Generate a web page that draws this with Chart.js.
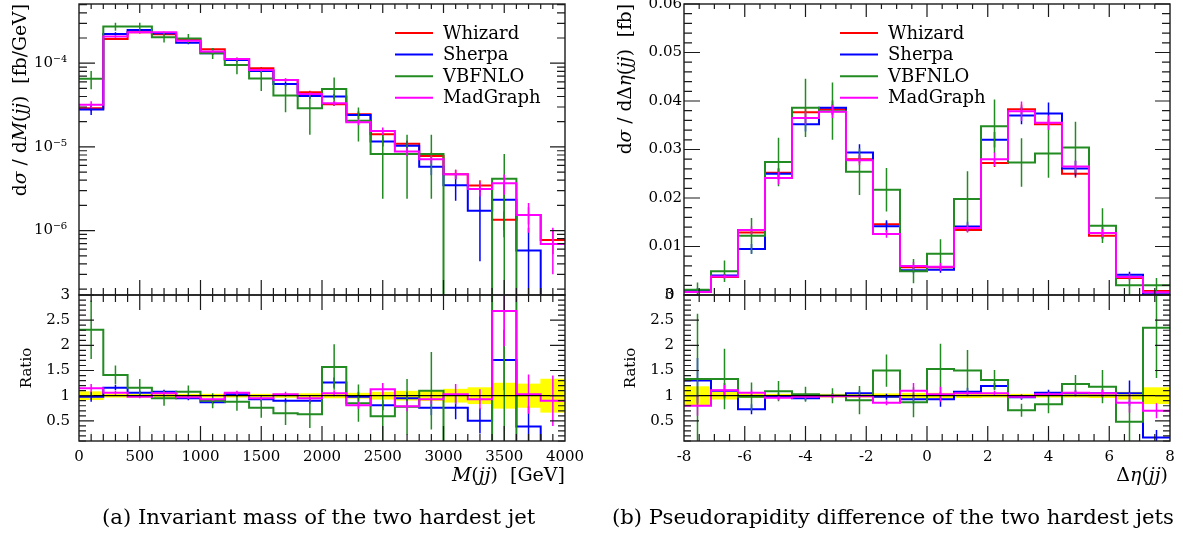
<!DOCTYPE html>
<html>
<head>
<meta charset="utf-8">
<script src="https://cdn.jsdelivr.net/npm/chart.js@4.4.1/dist/chart.umd.min.js"></script>
<style>
html, body { margin: 0; padding: 0; background: #fff; overflow: hidden; }
#page { position: relative; width: 1183px; height: 542px; }
canvas { position: absolute; }
.cap { position: absolute; top: 505px; font-family: "DejaVu Serif", serif; font-size: 21.2px; line-height: 24px; white-space: nowrap; color: #000; }
</style>
</head>
<body>
<div id="page">
  <canvas id="massMain" width="590" height="310" style="left:0;top:0"></canvas>
  <canvas id="massRatio" width="590" height="220" style="left:0;top:280px"></canvas>
  <canvas id="etaMain" width="588" height="310" style="left:595px;top:0"></canvas>
  <canvas id="etaRatio" width="588" height="220" style="left:595px;top:280px"></canvas>
  <div class="cap" style="left:102px">(a) Invariant mass of the two hardest jet</div>
  <div class="cap" style="left:612px">(b) Pseudorapidity difference of the two hardest jets</div>
</div>
<script>
// ---- données ----
const seriesNames = ['Whizard', 'Sherpa', 'VBFNLO', 'MadGraph'];
const seriesColors = ['#ff0000', '#0000ff', '#228b22', '#ff00ff'];

// (a) M(jj), bins de 200 GeV
const massEdges = [0, 200, 400, 600, 800, 1000, 1200, 1400, 1600, 1800, 2000, 2200, 2400, 2600, 2800, 3000, 3200, 3400, 3600, 3800, 4000];
const massXTicks = [0, 500, 1000, 1500, 2000, 2500, 3000, 3500, 4000];
const massYTicks = [1e-6, 1e-5, 1e-4];
const massWhizard = [2.9e-5, 1.95e-4, 2.34e-4, 2.22e-4, 1.94e-4, 1.47e-4, 1.12e-4, 8.7e-5, 6.3e-5, 4.5e-5, 3.23e-5, 2.45e-5, 1.42e-5, 1.09e-5, 7.8e-6, 4.72e-6, 3.45e-6, 1.35e-6, 1.54e-6, 7.7e-7];
const massSherpa = [2.8e-5, 2.24e-4, 2.5e-4, 2.28e-4, 1.76e-4, 1.32e-4, 1.09e-4, 8.1e-5, 5.66e-5, 4.07e-5, 4.0e-5, 2.41e-5, 1.16e-5, 1.03e-5, 5.8e-6, 3.48e-6, 1.73e-6, 2.33e-6, 5.8e-7, 0];
const massVbfnlo = [6.5e-5, 2.74e-4, 2.74e-4, 2.04e-4, 1.98e-4, 1.32e-4, 9.5e-5, 6.55e-5, 4.1e-5, 2.9e-5, 4.93e-5, 2.06e-5, 8.2e-6, 8.2e-6, 8.2e-6, 0, 0, 4.15e-6, 0, 0];
const massMadgraph = [3.2e-5, 2.08e-4, 2.34e-4, 2.34e-4, 1.86e-4, 1.38e-4, 1.12e-4, 8.3e-5, 6.3e-5, 4.3e-5, 3.33e-5, 1.97e-5, 1.55e-5, 8.8e-6, 7.1e-6, 4.72e-6, 3.15e-6, 3.68e-6, 1.54e-6, 6.9e-7];
const massWhizardErr = [2.3e-6, 6e-6, 7e-6, 7e-6, 6e-6, 5e-6, 4e-6, 3e-6, 2.5e-6, 2e-6, 1.5e-6, 1.2e-6, 1e-6, 1e-6, 8e-7, 6e-7, 5.5e-7, 3.4e-7, 3.6e-7, 2.5e-7];
const massSherpaErr = [4e-6, 1e-5, 8e-6, 8e-6, 7e-6, 6e-6, 5e-6, 4e-6, 3.5e-6, 3e-6, 3e-6, 2.5e-6, 1.5e-6, 1.4e-6, 1.2e-6, 1.2e-6, 1.3e-6, 1.5e-6, 5e-7, 0];
const massVbfnloErr = [1.6e-5, 3e-5, 3e-5, 2.7e-5, 2.5e-5, 2e-5, 2.1e-5, 1.9e-5, 1.5e-5, 1.5e-5, 1.8e-5, 9e-6, 5.8e-6, 5.8e-6, 5.8e-6, 0, 0, 4.1e-6, 0, 0];
const massMadgraphErr = [3e-6, 6e-6, 6e-6, 6e-6, 5e-6, 4e-6, 4e-6, 3e-6, 2.5e-6, 2e-6, 2e-6, 1.5e-6, 1.5e-6, 1e-6, 8e-7, 6e-7, 6e-7, 1e-6, 6e-7, 3.9e-7];
// ratios / Whizard
const massRatioSherpa = [0.98, 1.16, 1.06, 1.08, 0.95, 0.87, 1.03, 0.93, 0.90, 0.90, 1.26, 0.98, 0.81, 0.95, 0.76, 0.76, 0.50, 1.71, 0.39, 0];
const massRatioVbfnlo = [2.31, 1.41, 1.16, 0.95, 1.08, 0.90, 0.88, 0.76, 0.65, 0.63, 1.57, 0.85, 0.59, 0.78, 1.10, 0, 0, 3.1, 0, 0];
const massRatioMadgraph = [1.15, 1.06, 0.98, 1.05, 0.97, 0.93, 1.06, 0.95, 1.03, 0.95, 1.05, 0.81, 1.13, 0.79, 0.93, 1.03, 0.93, 2.68, 1.03, 0.90];
const massRatioSherpaErr = [0.1, 0.05, 0.04, 0.04, 0.04, 0.04, 0.05, 0.05, 0.05, 0.06, 0.1, 0.1, 0.1, 0.12, 0.15, 0.23, 0.25, 0.6, 0.4, 0];
const massRatioVbfnloErr = [0.58, 0.19, 0.17, 0.15, 0.12, 0.15, 0.18, 0.2, 0.23, 0.27, 0.45, 0.37, 0.5, 0.55, 0.77, 0, 0, 3, 0, 0];
const massRatioMadgraphErr = [0.08, 0.04, 0.03, 0.03, 0.03, 0.03, 0.04, 0.04, 0.05, 0.05, 0.06, 0.07, 0.12, 0.1, 0.1, 0.2, 0.2, 0.7, 0.39, 0.5];
const massBand = [0.08, 0.03, 0.03, 0.03, 0.03, 0.03, 0.03, 0.03, 0.035, 0.04, 0.045, 0.05, 0.07, 0.09, 0.1, 0.13, 0.16, 0.25, 0.233, 0.33];

// (b) Delta eta(jj), 18 bins de -8 a 8
const etaEdges = [-8, -7.111, -6.222, -5.333, -4.444, -3.556, -2.667, -1.778, -0.889, 0, 0.889, 1.778, 2.667, 3.556, 4.444, 5.333, 6.222, 7.111, 8];
const etaXTicks = [-8, -6, -4, -2, 0, 2, 4, 6, 8];
const etaYTicks = [0, 0.01, 0.02, 0.03, 0.04, 0.05, 0.06];
const etaWhizard = [0.0008, 0.0037, 0.0129, 0.0252, 0.0377, 0.0383, 0.0280, 0.0146, 0.0057, 0.0057, 0.0134, 0.0272, 0.0383, 0.0352, 0.0250, 0.0122, 0.0035, 0.0008];
const etaSherpa = [0.00104, 0.0040, 0.0095, 0.0250, 0.0352, 0.0386, 0.0294, 0.0142, 0.0051, 0.0052, 0.0141, 0.0320, 0.0370, 0.0374, 0.0261, 0.0128, 0.0042, 0.00014];
const etaVbfnlo = [0.00106, 0.0049, 0.0122, 0.0274, 0.0386, 0.0379, 0.0254, 0.0217, 0.0049, 0.0085, 0.0198, 0.0348, 0.0273, 0.0292, 0.0304, 0.0143, 0.0020, 0.0020];
const etaMadgraph = [0.00064, 0.0038, 0.0134, 0.0241, 0.0365, 0.0378, 0.0278, 0.0126, 0.0060, 0.0058, 0.0138, 0.0280, 0.0379, 0.0355, 0.0265, 0.0128, 0.0037, 0.00056];
const etaWhizardErr = [0.00015, 0.0003, 0.0005, 0.0008, 0.001, 0.001, 0.0008, 0.0005, 0.0003, 0.0003, 0.0005, 0.0008, 0.001, 0.001, 0.0008, 0.0005, 0.0003, 0.00013];
const etaSherpaErr = [0.0004, 0.0004, 0.001, 0.0012, 0.0015, 0.0015, 0.0017, 0.0012, 0.0006, 0.0006, 0.001, 0.0016, 0.0018, 0.0023, 0.0016, 0.0012, 0.0006, 0.00003];
const etaVbfnloErr = [0.0015, 0.0022, 0.0037, 0.005, 0.006, 0.0059, 0.0048, 0.0045, 0.0025, 0.003, 0.0057, 0.0055, 0.005, 0.005, 0.0053, 0.0036, 0.002, 0.0015];
const etaMadgraphErr = [0.00015, 0.0004, 0.0008, 0.0013, 0.0013, 0.0013, 0.001, 0.0008, 0.0008, 0.0008, 0.0008, 0.0014, 0.002, 0.0015, 0.0012, 0.0008, 0.0007, 0.0001];
const etaRatioSherpa = [1.30, 1.10, 0.73, 0.99, 0.95, 1.00, 1.05, 0.98, 0.93, 0.93, 1.08, 1.19, 0.97, 1.06, 1.05, 1.05, 1.05, 0.17];
const etaRatioVbfnlo = [1.33, 1.33, 0.98, 1.09, 1.03, 1.00, 0.91, 1.50, 0.87, 1.53, 1.50, 1.31, 0.71, 0.83, 1.23, 1.18, 0.48, 2.35];
const etaRatioMadgraph = [0.80, 1.11, 1.06, 0.96, 0.98, 0.99, 0.99, 0.86, 1.10, 1.03, 1.05, 1.05, 0.98, 1.03, 1.06, 1.05, 0.86, 0.70];
const etaRatioSherpaErr = [0.45, 0.15, 0.1, 0.06, 0.05, 0.05, 0.06, 0.06, 0.1, 0.15, 0.08, 0.06, 0.05, 0.06, 0.06, 0.08, 0.25, 0.15];
const etaRatioVbfnloErr = [1.3, 0.6, 0.28, 0.2, 0.15, 0.15, 0.28, 0.32, 0.3, 0.5, 0.41, 0.2, 0.13, 0.18, 0.18, 0.33, 0.43, 1.0];
const etaRatioMadgraphErr = [0.2, 0.1, 0.06, 0.05, 0.04, 0.04, 0.04, 0.05, 0.15, 0.15, 0.06, 0.05, 0.05, 0.04, 0.05, 0.07, 0.2, 0.15];
const etaBand = [0.18, 0.07, 0.04, 0.03, 0.03, 0.03, 0.03, 0.04, 0.05, 0.05, 0.04, 0.03, 0.03, 0.03, 0.03, 0.04, 0.07, 0.16];

const ratioTicks = [0.5, 1, 1.5, 2, 2.5, 3];

// ---- outils ----
Chart.defaults.font.family = '"DejaVu Serif", serif';
Chart.defaults.font.size = 15;
Chart.defaults.color = '#000';

const SUP = { '-': '\u207B', '0': '\u2070', '1': '\u00B9', '2': '\u00B2', '3': '\u00B3', '4': '\u2074', '5': '\u2075', '6': '\u2076', '7': '\u2077', '8': '\u2078', '9': '\u2079' };
const pow10Label = v => '10' + String(Math.round(Math.log10(v))).split('').map(c => SUP[c]).join('');

function range(a, b, s) {
  const out = [];
  for (let i = 0; a + i * s <= b + s * 1e-6; i++) out.push(+(a + i * s).toFixed(6));
  return out;
}
function withoutMajors(list, majors) {
  return list.filter(v => !majors.some(m => Math.abs(m - v) < 1e-9));
}
function logMinors(min, max) {
  const out = [];
  for (let e = Math.floor(Math.log10(min)); e <= Math.ceil(Math.log10(max)); e++) {
    for (let k = 2; k <= 9; k++) {
      const v = k * Math.pow(10, e);
      if (v >= min && v <= max) out.push(v);
    }
  }
  return out;
}

function stepPoints(edges, vals, floor) {
  const pts = vals.map((v, i) => ({ x: edges[i], y: Math.max(v, floor) }));
  pts.push({ x: edges[edges.length - 1], y: Math.max(vals[vals.length - 1], floor) });
  return pts;
}
function errPoints(edges, vals, errs, floor) {
  const pts = [];
  vals.forEach((v, i) => {
    if (!errs[i] || !v) return;
    const c = (edges[i] + edges[i + 1]) / 2;
    pts.push({ x: c, y: Math.max(v - errs[i], floor) }, { x: c, y: v + errs[i] }, { x: c, y: null });
  });
  return pts;
}
// un histogramme en marches + ses barres d'erreur
function seriesSets(edges, list, floor) {
  const out = [];
  list.forEach(s => {
    out.push({ data: stepPoints(edges, s.vals, floor), borderColor: s.color, borderWidth: 2, stepped: true, order: s.order });
    out.push({ data: errPoints(edges, s.vals, s.errs, floor), borderColor: s.color, borderWidth: 1.5, order: s.order });
  });
  return out;
}
function bandSet(edges, band) {
  return {
    type: 'bar',
    data: band.map((b, i) => ({ x: (edges[i] + edges[i + 1]) / 2, y: [1 - b, 1 + b] })),
    backgroundColor: '#ffff00', borderWidth: 0, barPercentage: 1, categoryPercentage: 1, order: 100
  };
}
function unitySet(edges) {
  return { data: [{ x: edges[0], y: 1 }, { x: edges[edges.length - 1], y: 1 }], borderColor: '#000', borderWidth: 1.2, order: 1 };
}

// texte avec morceaux en italique
function richText(ctx, parts, x, y, size, align) {
  const fam = 'px "DejaVu Serif", serif';
  const widths = parts.map(([t, it]) => { ctx.font = (it ? 'italic ' : '') + size + fam; return ctx.measureText(t).width; });
  const total = widths.reduce((a, b) => a + b, 0);
  let cx = align === 'right' ? x - total : align === 'center' ? x - total / 2 : x;
  ctx.textAlign = 'left';
  ctx.textBaseline = 'alphabetic';
  parts.forEach(([t, it], i) => {
    ctx.font = (it ? 'italic ' : '') + size + fam;
    ctx.fillText(t, cx, y);
    cx += widths[i];
  });
}

// style de chaque cadre (ticks internes, titres, légende)
const panelStyle = {};

const frameTicks = {
  id: 'frameTicks',
  afterDatasetsDraw(chart) {
    const st = panelStyle[chart.canvas.id];
    const { ctx, chartArea: a } = chart;
    const xs = chart.scales.x, ys = chart.scales.y;
    ctx.save();
    ctx.strokeStyle = '#1a1a1a';
    ctx.lineWidth = 1.4;
    ctx.strokeRect(a.left, a.top, a.right - a.left, a.bottom - a.top);
    ctx.lineWidth = 1.2;
    ctx.beginPath();
    const mark = (list, len, isX) => list.forEach(v => {
      if (isX) {
        const p = xs.getPixelForValue(v);
        if (p < a.left + 1 || p > a.right - 1) return;
        ctx.moveTo(p, a.top); ctx.lineTo(p, a.top + len[0]);
        ctx.moveTo(p, a.bottom); ctx.lineTo(p, a.bottom - len[1]);
      } else {
        const p = ys.getPixelForValue(v);
        if (p < a.top - 0.5 || p > a.bottom + 0.5) return;
        ctx.moveTo(a.left, p); ctx.lineTo(a.left + len[0], p);
        ctx.moveTo(a.right, p); ctx.lineTo(a.right - len[1], p);
      }
    });
    mark(st.xMajor, st.xMajLen, true);
    mark(st.xMinor, st.xMinLen, true);
    mark(st.yMajor, st.yMajLen, false);
    mark(st.yMinor, st.yMinLen, false);
    ctx.stroke();
    ctx.restore();
  },
  afterDraw(chart) {
    const st = panelStyle[chart.canvas.id];
    const ctx = chart.ctx;
    ctx.save();
    ctx.fillStyle = '#000';
    if (st.yTitle) {
      const t = st.yTitle;
      ctx.save();
      ctx.translate(t.x, t.y);
      ctx.rotate(-Math.PI / 2);
      richText(ctx, t.parts, 0, 0, t.size, t.align);
      ctx.restore();
    }
    if (st.xTitle) {
      const t = st.xTitle;
      richText(ctx, t.parts, t.x, t.y, t.size, t.align);
    }
    if (st.legend) {
      const L = st.legend;
      seriesNames.forEach((name, i) => {
        const y = L.y0 + i * L.dy;
        ctx.strokeStyle = seriesColors[i];
        ctx.lineWidth = 2;
        ctx.beginPath();
        ctx.moveTo(L.x1, y); ctx.lineTo(L.x2, y);
        ctx.stroke();
        ctx.font = '18px "DejaVu Serif", serif';
        ctx.textAlign = 'left';
        ctx.textBaseline = 'alphabetic';
        ctx.fillText(name, L.tx, y + 5.5);
      });
    }
    ctx.restore();
  }
};

function noPad(s) { s.paddingTop = 0; s.paddingBottom = 0; s.paddingLeft = 0; s.paddingRight = 0; }

function drawPanel(id, datasets, padding, xScale, yScale) {
  return new Chart(document.getElementById(id), {
    type: 'line',
    data: { datasets: datasets },
    options: {
      responsive: false,
      animation: false,
      events: [],
      devicePixelRatio: 1,
      layout: { padding: padding },
      elements: { point: { radius: 0 }, line: { tension: 0, borderCapStyle: 'butt' } },
      plugins: { legend: { display: false }, tooltip: { enabled: false } },
      scales: { x: xScale, y: yScale }
    },
    plugins: [frameTicks]
  });
}

function xAxis(edges, ticks, shown) {
  const cfg = { type: 'linear', min: edges[0], max: edges[edges.length - 1], offset: false, display: shown };
  if (shown) {
    Object.assign(cfg, {
      grid: { display: false, drawTicks: false },
      border: { display: false },
      ticks: { padding: 7, maxRotation: 0, autoSkip: false, callback: v => String(v) },
      afterBuildTicks: s => { s.ticks = ticks.map(v => ({ value: v })); },
      afterFit: s => { s.height = 59; noPad(s); }
    });
  }
  return cfg;
}
function yAxis(type, min, max, ticks, width, pad, fmt) {
  return {
    type: type, min: min, max: max, position: 'left',
    grid: { display: false, drawTicks: false },
    border: { display: false },
    ticks: { padding: pad, autoSkip: false, callback: fmt },
    afterBuildTicks: s => { s.ticks = ticks.map(v => ({ value: v })); },
    afterFit: s => { s.width = width; noPad(s); }
  };
}

const mainLen = { xMinLen: [5, 7], yMajLen: [16, 15], yMinLen: [8, 8] };
const ratioLen = { xMajLen: [15, 15], xMinLen: [7, 7], yMajLen: [15, 15], yMinLen: [7, 7] };

// ---- (a) masse invariante ----
const MASS_MIN = 1.7e-7, MASS_MAX = 5.1e-4;
panelStyle.massMain = Object.assign({
  xMajor: massXTicks, xMinor: withoutMajors(range(0, 4000, 100), massXTicks),
  yMajor: massYTicks, yMinor: logMinors(MASS_MIN, MASS_MAX),
  xMajLen: [9, 15],
  yTitle: { parts: [['d', 0], ['\u03C3', 1], [' / d', 0], ['M', 1], ['(', 0], ['jj', 1], [')  [fb/GeV]', 0]], x: 26, y: 4, size: 18.8, align: 'right' },
  legend: { x1: 395, x2: 433, tx: 443, y0: 33, dy: 21.6 }
}, mainLen);
drawPanel('massMain', [
  ...seriesSets(massEdges, [
    { vals: massWhizard, errs: massWhizardErr, color: seriesColors[0], order: 40 },
    { vals: massSherpa, errs: massSherpaErr, color: seriesColors[1], order: 30 },
    { vals: massVbfnlo, errs: massVbfnloErr, color: seriesColors[2], order: 20 },
    { vals: massMadgraph, errs: massMadgraphErr, color: seriesColors[3], order: 10 }
  ], 1e-12)
], { left: 0, right: 25, top: 4, bottom: 15 },
  xAxis(massEdges, massXTicks, false),
  yAxis('logarithmic', MASS_MIN, MASS_MAX, massYTicks, 79, 12, v => pow10Label(v)));

panelStyle.massRatio = Object.assign({
  xMajor: massXTicks, xMinor: withoutMajors(range(0, 4000, 100), massXTicks),
  yMajor: ratioTicks, yMinor: withoutMajors(range(0.1, 3, 0.1), ratioTicks),
  yTitle: { parts: [['Ratio', 0]], x: 31, y: 88, size: 15, align: 'center' },
  xTitle: { parts: [['M', 1], ['(', 0], ['jj', 1], [')  [GeV]', 0]], x: 565, y: 201, size: 19, align: 'right' }
}, ratioLen);
drawPanel('massRatio', [
  bandSet(massEdges, massBand),
  ...seriesSets(massEdges, [
    { vals: massRatioSherpa, errs: massRatioSherpaErr, color: seriesColors[1], order: 30 },
    { vals: massRatioVbfnlo, errs: massRatioVbfnloErr, color: seriesColors[2], order: 20 },
    { vals: massRatioMadgraph, errs: massRatioMadgraphErr, color: seriesColors[3], order: 10 }
  ], -Infinity),
  unitySet(massEdges)
], { left: 0, right: 25, top: 15, bottom: 0 },
  xAxis(massEdges, massXTicks, true),
  yAxis('linear', 0.1, 3, ratioTicks, 79, 9, v => String(v)));

// ---- (b) difference de pseudorapidite ----
panelStyle.etaMain = Object.assign({
  xMajor: etaXTicks, xMinor: withoutMajors(range(-8, 8, 0.5), etaXTicks),
  yMajor: etaYTicks, yMinor: withoutMajors(range(0, 0.06, 0.002), etaYTicks),
  xMajLen: [13, 15],
  yTitle: { parts: [['d', 0], ['\u03C3', 1], [' / d\u0394', 0], ['\u03B7', 1], ['(', 0], ['jj', 1], [')  [fb]', 0]], x: 36, y: 4, size: 18.6, align: 'right' },
  legend: { x1: 245, x2: 283, tx: 293, y0: 33, dy: 21.6 }
}, mainLen);
drawPanel('etaMain', [
  ...seriesSets(etaEdges, [
    { vals: etaWhizard, errs: etaWhizardErr, color: seriesColors[0], order: 40 },
    { vals: etaSherpa, errs: etaSherpaErr, color: seriesColors[1], order: 30 },
    { vals: etaVbfnlo, errs: etaVbfnloErr, color: seriesColors[2], order: 20 },
    { vals: etaMadgraph, errs: etaMadgraphErr, color: seriesColors[3], order: 10 }
  ], -Infinity)
], { left: 0, right: 13, top: 4, bottom: 15 },
  xAxis(etaEdges, etaXTicks, false),
  // le "0" du bas est posé sur le "3" du ratio, comme dans la figure
  yAxis('linear', 0, 0.06, etaYTicks, 89, 2, v => (v === 0 ? '0\u2002' : v.toFixed(2))));

panelStyle.etaRatio = Object.assign({
  xMajor: etaXTicks, xMinor: withoutMajors(range(-8, 8, 0.5), etaXTicks),
  yMajor: ratioTicks, yMinor: withoutMajors(range(0.1, 3, 0.1), ratioTicks),
  yTitle: { parts: [['Ratio', 0]], x: 40, y: 88, size: 15, align: 'center' },
  xTitle: { parts: [['\u0394', 0], ['\u03B7', 1], ['(', 0], ['jj', 1], [')', 0]], x: 573, y: 201, size: 19, align: 'right' }
}, ratioLen);
drawPanel('etaRatio', [
  bandSet(etaEdges, etaBand),
  ...seriesSets(etaEdges, [
    { vals: etaRatioSherpa, errs: etaRatioSherpaErr, color: seriesColors[1], order: 30 },
    { vals: etaRatioVbfnlo, errs: etaRatioVbfnloErr, color: seriesColors[2], order: 20 },
    { vals: etaRatioMadgraph, errs: etaRatioMadgraphErr, color: seriesColors[3], order: 10 }
  ], -Infinity),
  unitySet(etaEdges)
], { left: 0, right: 13, top: 15, bottom: 0 },
  xAxis(etaEdges, etaXTicks, true),
  yAxis('linear', 0.1, 3, ratioTicks, 89, 10, v => String(v)));
</script>
</body>
</html>
